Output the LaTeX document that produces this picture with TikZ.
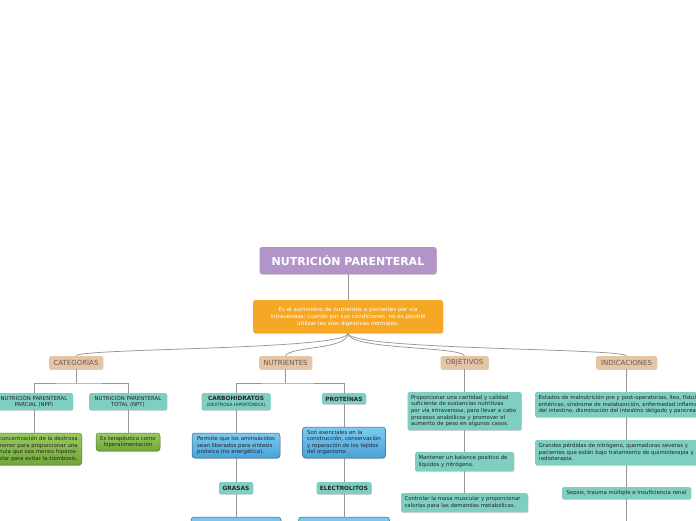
\documentclass[tikz,border=0pt]{standalone}
\usepackage{fontspec}
\setmainfont{DejaVu Sans}
\usepackage{tikz}
\usetikzlibrary{shadows}
\definecolor{npurple}{RGB}{178,148,200}
\definecolor{norange}{RGB}{246,168,36}
\definecolor{ntan}{RGB}{230,196,166}
\definecolor{ntantext}{RGB}{105,92,82}
\definecolor{nteal}{RGB}{126,206,194}
\definecolor{ngreentop}{RGB}{152,202,92}
\definecolor{ngreenbot}{RGB}{112,166,58}
\definecolor{ngreenline}{RGB}{88,128,48}
\definecolor{nbluetop}{RGB}{124,202,240}
\definecolor{nbluebot}{RGB}{72,162,216}
\definecolor{nblueline}{RGB}{52,100,140}
\definecolor{nline}{RGB}{150,150,150}
\newcommand{\tx}{\fontsize{5.4}{6.6}\selectfont}
\newcommand{\hx}{\fontsize{5.8}{7}\selectfont\bfseries}

\begin{document}
\begin{tikzpicture}[x=1pt, y=-1pt,
    box/.style = {rounded corners=2.5pt, inner sep=0pt, align=center,
                  drop shadow={shadow xshift=0.4pt, shadow yshift=-0.9pt, opacity=0.35}},
    titlebox/.style = {box, fill=npurple, text=white, font=\fontsize{11}{13}\selectfont\bfseries},
    defbox/.style = {box, fill=norange, text=white, font=\fontsize{5.6}{7}\selectfont},
    catbox/.style = {box, rounded corners=1.5pt, fill=ntan, text=ntantext, font=\fontsize{7}{8}\selectfont},
    headbox/.style = {box, rounded corners=1.5pt, fill=nteal, text=black!85, font=\tx},
    notebox/.style = {box, rounded corners=1.5pt, fill=nteal, text=black!85, font=\tx, inner xsep=3.5pt},
    greenbox/.style = {box, rounded corners=3pt, draw=ngreenline, line width=0.5pt,
                       top color=ngreentop, bottom color=ngreenbot, text=black!85, font=\tx},
    bluebox/.style = {box, rounded corners=3pt, draw=nblueline, line width=0.5pt,
                      top color=nbluetop, bottom color=nbluebot, text=black!85, font=\tx, inner xsep=3.5pt},
    link/.style = {draw=nline, line width=0.75pt}]
  \useasboundingbox (0,0) rectangle (696,520);

  \node[titlebox, minimum width=177pt, minimum height=27pt] (title) at (348,260.5) {NUTRICIÓN PARENTERAL};
  \node[defbox, minimum width=190pt, minimum height=33pt] (def) at (348,316.5)
    {Es el suministro de nutrientes a pacientes por vía\\intravenosa; cuando por sus condiciones\ \ no es posible\\utilizar las vías digestivas normales.};

  \node[catbox, minimum width=54pt, minimum height=13pt] (cat) at (76,362.5) {CATEGORÍAS};
  \node[catbox, minimum width=53pt, minimum height=13pt] (nut) at (285.5,362.5) {NUTRIENTES};
  \node[catbox, minimum width=48pt, minimum height=13pt] (obj) at (464.5,362.5) {OBJETIVOS};
  \node[catbox, minimum width=61pt, minimum height=13pt] (ind) at (626.5,362.5) {INDICACIONES};

  \node[headbox, minimum width=78pt, minimum height=17pt] (npp) at (34,401.5) {NUTRICIÓN PARENTERAL\\PARCIAL (NPP)};
  \node[headbox, minimum width=78pt, minimum height=17pt] (npt) at (128,401.5) {NUTRICIÓN PARENTERAL\\TOTAL (NPT)};
  \node[greenbox, anchor=east, minimum width=116pt, minimum height=32pt, text width=108pt, align=right] (nppd) at (82,449)
    {La concentración de la dextrosa\\es menor para proporcionar una\\fórmula que sea menos hiperos-\\molar para evitar la trombosis.};
  \node[greenbox, minimum width=64pt, minimum height=18pt] (nptd) at (128,442) {Es terapéutica como\\hiperalimentación};

  \node[headbox, minimum width=69pt, minimum height=17pt] (carb) at (236,401.5)
    {{\hx CARBOHIDRATOS}\\{\fontsize{4.4}{5.2}\selectfont(DEXTROSA HIPERTÓNICA)}};
  \node[headbox, minimum width=44pt, minimum height=11pt, font=\hx] (prot) at (344,398.5) {PROTEÍNAS};
  \node[bluebox, minimum width=88pt, minimum height=25pt, align=left] (carbd) at (236,445.5)
    {Permite que los aminoácidos\\sean liberados para síntesis\\proteica (no energética).};
  \node[bluebox, minimum width=83pt, minimum height=31pt, align=left] (protd) at (344,442.5)
    {Son esenciales en la\\construcción, conservación\\y reparación de los tejidos\\del organismo.};
  \node[headbox, minimum width=34pt, minimum height=12pt, font=\hx] (gras) at (236,488) {GRASAS};
  \node[headbox, minimum width=55pt, minimum height=12pt, font=\hx] (elec) at (344,488) {ELECTROLITOS};
  \node[bluebox, minimum width=90pt, minimum height=30pt] (grasd) at (236,532) {};
  \node[bluebox, minimum width=91pt, minimum height=30pt] (elecd) at (344,532) {};

  \node[notebox, minimum width=114pt, minimum height=38pt, text width=107pt, align=left] (obj1) at (464.5,411)
    {Proporcionar una cantidad y calidad\\suficiente de sustancias nutritivas\\por vía intravenosa, para llevar a cabo\\procesos anabólicos y promover el\\aumento de peso en algunos casos.};
  \node[notebox, minimum width=99pt, minimum height=19pt, text width=92pt, align=left] (obj2) at (464.5,461.5)
    {Mantener un balance positivo de\\líquidos y nitrógeno.};
  \node[notebox, minimum width=127pt, minimum height=19pt, text width=120pt, align=left] (obj3) at (464.5,502.5)
    {Controlar la masa muscular y proporcionar\\calorías para las demandas metabólicas.};

  \node[notebox, anchor=west, minimum width=200pt, minimum height=25pt, text width=193pt, align=left] (ind1) at (535,404.5)
    {Estados de malnutrición pre y post-operatorias, íleo, fístulas\\entéricas, síndrome de malabsorción, enfermedad inflamatoria\\del intestino, disminución del intestino delgado y pancreatitis.};
  \node[notebox, anchor=west, minimum width=200pt, minimum height=25pt, text width=193pt, align=left] (ind2) at (535,452.5)
    {Grandes pérdidas de nitrógeno, quemaduras severas y\\pacientes que están bajo tratamiento de quimioterapia y\\radioterapia.};
  \node[notebox, minimum width=129pt, minimum height=12pt] (ind3) at (626.5,493) {Sepsis, trauma múltiple e insuficiencia renal};

  \coordinate (catj) at (76,383);
  \coordinate (nutj) at (285.5,383);
  \coordinate (indend) at (626.5,530);

  \draw[link] (title.south) -- (title.south |- def.north);
  \draw[link] (def.south) .. controls (348,350) and (80,348) .. (cat.north);
  \draw[link] (def.south) .. controls (348,350) and (290,346) .. (nut.north);
  \draw[link] (def.south) .. controls (348,350) and (460,346) .. (obj.north);
  \draw[link] (def.south) .. controls (348,350) and (620,348) .. (ind.north);

  \draw[link] (cat) -- (catj);
  \draw[link] (npp.north) |- (catj) -| (npt.north);
  \draw[link] (npp.south) -- (npp.south |- nppd.north);
  \draw[link] (npt) -- (nptd);

  \draw[link] (nut) -- (nutj);
  \draw[link] (carb.north) |- (nutj) -| (prot.north);
  \draw[link] (carb) -- (carbd);
  \draw[link] (carbd) -- (gras);
  \draw[link] (gras) -- (grasd);
  \draw[link] (prot) -- (protd);
  \draw[link] (protd) -- (elec);
  \draw[link] (elec) -- (elecd);

  \draw[link] (obj) -- (obj1);
  \draw[link] (obj1) -- (obj2);
  \draw[link] (obj2) -- (obj3);

  \draw[link] (ind.south) -- (ind.south |- ind1.north);
  \draw[link] (ind.south |- ind1.south) -- (ind.south |- ind2.north);
  \draw[link] (ind.south |- ind2.south) -- (ind3);
  \draw[link] (ind3) -- (indend);
\end{tikzpicture}
\end{document}
